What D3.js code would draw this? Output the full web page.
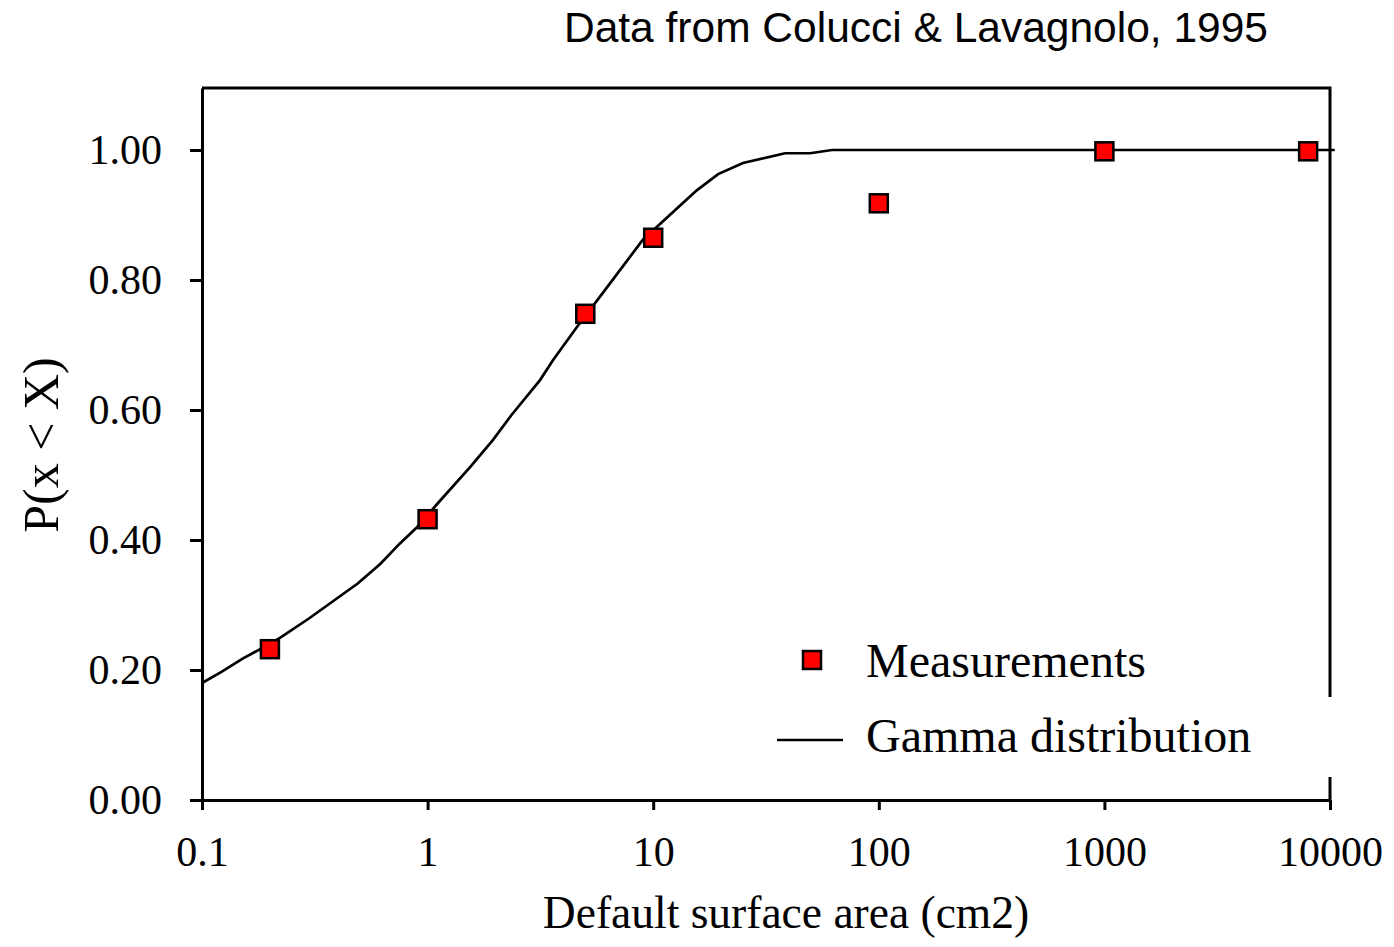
<!DOCTYPE html>
<html>
<head>
<meta charset="utf-8">
<script src="https://cdn.jsdelivr.net/npm/d3@7"></script>
<style>
  body { margin: 0; background: #fff; }
  svg { display: block; }
</style>
</head>
<body>
<div id="plot"></div>
<script>
(function() {
"use strict";

const measX = [0.2, 1, 5, 10, 100, 1000, 8000];
const measY = [0.232, 0.432, 0.748, 0.865, 0.918, 0.998, 0.998];

// fitted gamma distribution curve
const gammaX = [0.1, 0.122, 0.152, 0.2, 0.225, 0.3, 0.49, 0.62, 0.75, 0.9, 1.1, 1.55, 1.95, 2.35, 3.15, 3.6, 4.6, 5.8, 9, 15.6, 19.4, 25, 38.4, 49.6, 62, 10500];
const gammaY = [0.18, 0.197, 0.218, 0.24, 0.251, 0.28, 0.333, 0.364, 0.394, 0.42, 0.455, 0.513, 0.554, 0.592, 0.646, 0.677, 0.728, 0.774, 0.862, 0.938, 0.963, 0.98, 0.995, 0.995, 1.0, 1.0];

const xTicks = [0.1, 1, 10, 100, 1000, 10000];
const xTickLabels = ["0.1", "1", "10", "100", "1000", "10000"];
const yTicks = [0, 0.2, 0.4, 0.6, 0.8, 1.0];

const WIDTH = 1394;
const HEIGHT = 947;
const LEFT = 202, RIGHT = 1330, TOP = 88, BOTTOM = 800;

const SERIF = "'Liberation Serif', 'Times New Roman', serif";
const SANS = "'Liberation Sans', Arial, sans-serif";

const SVG = d3.select("#plot")
              .append("svg")
              .attr("width", WIDTH)
              .attr("height", HEIGHT);

const xScale = d3.scaleLog()
                 .domain([0.1, 10000])
                 .range([LEFT, RIGHT]);

const yScale = d3.scaleLinear()
                 .domain([0, 1.0954])
                 .range([BOTTOM, TOP]);

// top and right frame
SVG.append("path")
  .attr("d", `M${LEFT},${TOP}H${RIGHT}V${BOTTOM}`)
  .attr("fill", "none")
  .attr("stroke", "#000")
  .attr("stroke-width", 3);

const xAxis = d3.axisBottom(xScale)
                .tickValues(xTicks)
                .tickFormat((d, i) => xTickLabels[i])
                .tickSizeInner(10)
                .tickSizeOuter(0)
                .tickPadding(26);

const yAxis = d3.axisLeft(yScale)
                .tickValues(yTicks)
                .tickFormat(d3.format(".2f"))
                .tickSizeInner(12)
                .tickSizeOuter(0)
                .tickPadding(28);

const gx = SVG.append("g")
  .attr("transform", `translate(0, ${BOTTOM})`)
  .call(xAxis);

const gy = SVG.append("g")
  .attr("transform", `translate(${LEFT}, 0)`)
  .call(yAxis);

[gx, gy].forEach(g => {
  g.select(".domain").attr("stroke-width", 3);
  g.selectAll(".tick line").attr("stroke-width", 3);
  g.selectAll(".tick text")
    .attr("font-family", SERIF)
    .attr("font-size", 42)
    .attr("fill", "#000");
});

// legend background hides part of the right frame
SVG.append("rect")
  .attr("x", 770).attr("y", 697)
  .attr("width", 580).attr("height", 80)
  .attr("fill", "#fff");

const line = d3.line()
  .x((d, i) => xScale(gammaX[i]))
  .y(d => yScale(d));

SVG.append("path")
  .datum(gammaY)
  .attr("d", line)
  .attr("fill", "none")
  .attr("stroke", "#000")
  .attr("stroke-width", 2.7);

const S = 18;
SVG.selectAll("rect.dot")
  .data(measY)
  .enter()
  .append("rect")
    .attr("class", "dot")
    .attr("x", (d, i) => xScale(measX[i]) - S / 2)
    .attr("y", d => yScale(d) - S / 2)
    .attr("width", S)
    .attr("height", S)
    .attr("fill", "#ff0000")
    .attr("stroke", "#000")
    .attr("stroke-width", 2.5);

// legend
SVG.append("rect")
  .attr("x", 812 - S / 2).attr("y", 660 - S / 2)
  .attr("width", S).attr("height", S)
  .attr("fill", "#ff0000").attr("stroke", "#000").attr("stroke-width", 2.5);
SVG.append("text")
  .attr("x", 866).attr("y", 677)
  .attr("font-family", SERIF).attr("font-size", 48)
  .text("Measurements");
SVG.append("line")
  .attr("x1", 777).attr("x2", 843)
  .attr("y1", 740).attr("y2", 740)
  .attr("stroke", "#000").attr("stroke-width", 2.7);
SVG.append("text")
  .attr("x", 866).attr("y", 752)
  .attr("font-family", SERIF).attr("font-size", 48)
  .text("Gamma distribution");

// titles
SVG.append("text")
  .attr("x", 1268).attr("y", 42)
  .attr("text-anchor", "end")
  .attr("font-family", SANS).attr("font-size", 42.5)
  .text("Data from Colucci & Lavagnolo, 1995");

SVG.append("text")
  .attr("x", 786).attr("y", 928)
  .attr("text-anchor", "middle")
  .attr("font-family", SERIF).attr("font-size", 45.5)
  .text("Default surface area (cm2)");

SVG.append("text")
  .attr("transform", "translate(58, 445) rotate(-90)")
  .attr("text-anchor", "middle")
  .attr("font-family", SERIF).attr("font-size", 50)
  .text("P(x < X)");

})();
</script>
</body>
</html>
